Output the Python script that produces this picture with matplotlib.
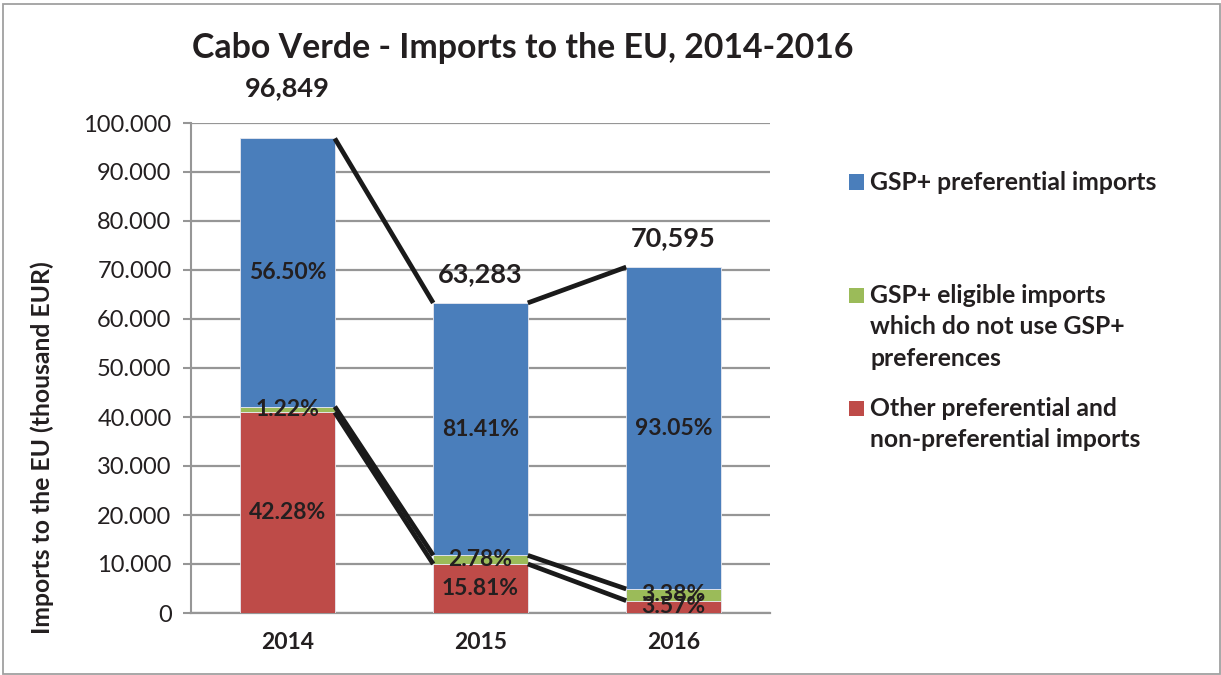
import numpy as np
import matplotlib
matplotlib.use('Agg')
import matplotlib.pyplot as plt
from matplotlib.patches import Rectangle

plt.rcParams['font.family'] = ['Lato', 'DejaVu Sans']

# data
years = ['2014', '2015', '2016']
totals = [96849, 63283, 70595]
pct_other = [42.28, 15.81, 3.57]      # other preferential and non-preferential
pct_eligible = [1.22, 2.78, 3.38]     # GSP+ eligible, not using preferences
pct_gsp = [56.50, 81.41, 93.05]       # GSP+ preferential
series_names = ['GSP+ preferential imports',
                'GSP+ eligible imports\nwhich do not use GSP+\npreferences',
                'Other preferential and\nnon-preferential imports']
yticks = [0, 10000, 20000, 30000, 40000, 50000, 60000, 70000, 80000, 90000, 100000]
ytick_labels = ['0', '10.000', '20.000', '30.000', '40.000', '50.000',
                '60.000', '70.000', '80.000', '90.000', '100.000']

c_blue = '#4A7EBB'
c_green = '#9BBB59'
c_red = '#BE4B48'
txt = '#231F20'

W, H = 1221, 675
fig = plt.figure(figsize=(W / 100, H / 100), dpi=100)
ax = fig.add_axes([191 / W, 1 - 613 / H, (770 - 191) / W, (613 - 123) / H])

x = np.arange(len(years))
totals = np.array(totals, dtype=float)
v_other = totals * np.array(pct_other) / 100
v_elig = totals * np.array(pct_eligible) / 100
v_gsp = totals * np.array(pct_gsp) / 100
width = 0.49

ax.bar(x, v_other, width, color=c_red, edgecolor='#E8E8F0', linewidth=0.6, zorder=3)
ax.bar(x, v_elig, width, bottom=v_other, color=c_green, edgecolor='#E8E8F0', linewidth=0.6, zorder=3)
ax.bar(x, v_gsp, width, bottom=v_other + v_elig, color=c_blue, edgecolor='#E8E8F0', linewidth=0.6, zorder=3)

# series lines between bar tops
levels = [v_other, v_other + v_elig, v_other + v_elig + v_gsp]
for lev in levels:
    for i in range(len(years) - 1):
        ax.plot([x[i] + width / 2, x[i + 1] - width / 2], [lev[i], lev[i + 1]],
                color='#1A1A1A', linewidth=3.4, solid_capstyle='butt', zorder=4,
                clip_on=False)

# segment labels
bottoms = [np.zeros(3), v_other, v_other + v_elig]
for vals, pcts, bot in zip([v_other, v_elig, v_gsp], [pct_other, pct_eligible, pct_gsp], bottoms):
    for i in range(len(years)):
        ax.text(x[i], bot[i] + vals[i] / 2, '%.2f%%' % pcts[i], ha='center', va='center',
                fontsize=16.5, fontweight='bold', color=txt, zorder=5)

# totals above bars
total_offsets = [36, 21, 21]
for i in range(len(years)):
    ax.annotate('{:,.0f}'.format(totals[i]), (x[i], totals[i]), xytext=(0, total_offsets[i]),
                textcoords='offset points', ha='center', va='center',
                fontsize=19.5, fontweight='bold', color=txt, annotation_clip=False)

ax.set_xlim(-0.5, 2.5)
ax.set_ylim(0, 100000)
ax.set_yticks(yticks)
ax.set_yticklabels(ytick_labels)
ax.set_xticks(x)
ax.set_xticklabels(years, fontweight='bold')
ax.tick_params(axis='y', labelsize=17, colors='#969696', labelcolor=txt, length=6, width=1.5, pad=8)
ax.tick_params(axis='x', labelsize=16.5, length=0, pad=14, labelcolor=txt)
ax.grid(axis='y', color='#969696', linewidth=1.6, zorder=0)
ax.set_axisbelow(True)
for s in ['top', 'right']:
    ax.spines[s].set_visible(False)
ax.spines['left'].set_color('#969696')
ax.spines['left'].set_linewidth(1.5)
ax.spines['bottom'].set_color('#969696')
ax.spines['bottom'].set_linewidth(1.6)

fig.text(523 / W, 1 - 48 / H, 'Cabo Verde - Imports to the EU, 2014-2016', ha='center', va='center',
         fontsize=24.4, fontweight='bold', color=txt)
fig.text(42 / W, 1 - 448 / H, 'Imports to the EU (thousand EUR)', ha='center', va='center',
         rotation=90, fontsize=17.8, fontweight='bold', color=txt)

# legend
legend_colors = [c_blue, c_green, c_red]
legend_y = [182, 295, 408]
line_gap = 31.5
for name, col, y0 in zip(series_names, legend_colors, legend_y):
    fig.patches.append(Rectangle((849 / W, 1 - (y0 + 7.5) / H), 15 / W, 15 / H,
                                 transform=fig.transFigure, facecolor=col, edgecolor='none'))
    for k, line in enumerate(name.split('\n')):
        fig.text(870 / W, 1 - (y0 + k * line_gap) / H, line, ha='left', va='center',
                 fontsize=17.8, fontweight='bold', color=txt)

# chart border
fig.patches.append(Rectangle((3 / W, 1.5 / H), 1216.5 / W, 669.5 / H, transform=fig.transFigure,
                             facecolor='none', edgecolor='#A0A0A0', linewidth=1.3))

fig.savefig('out.png', dpi=100)
